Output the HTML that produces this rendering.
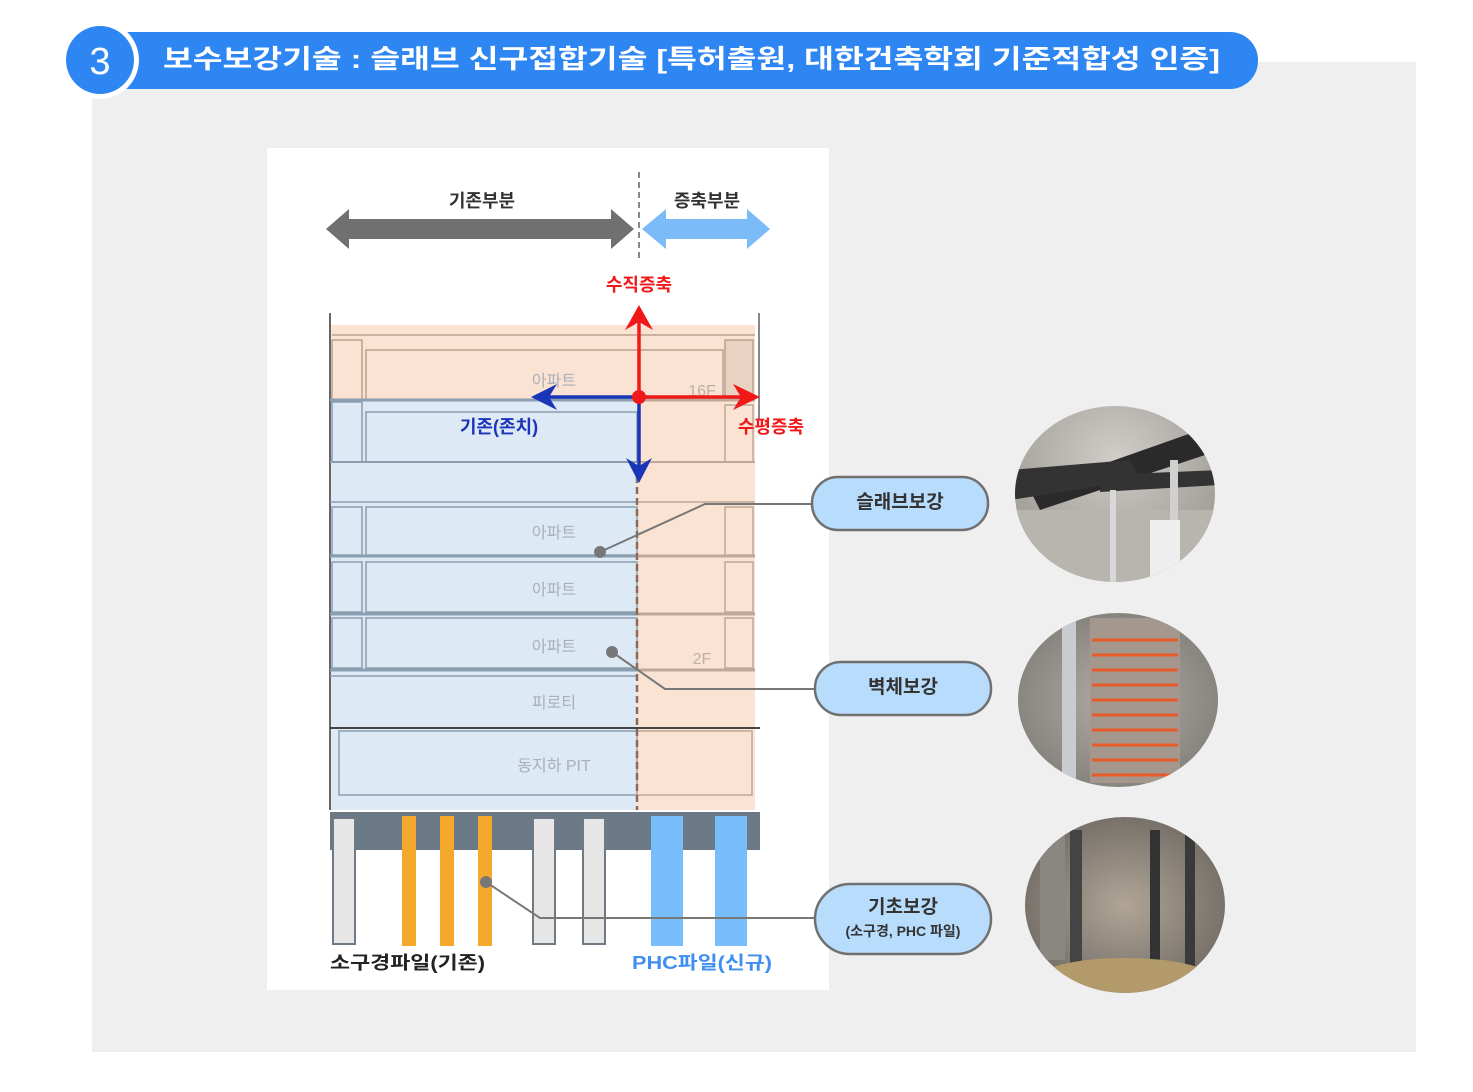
<!DOCTYPE html>
<html><head><meta charset="utf-8"><style>
html,body{margin:0;padding:0;background:#fff;}
svg{display:block;font-family:"Liberation Sans","Noto Sans CJK KR",sans-serif;}
</style></head><body>
<svg width="1473" height="1092" viewBox="0 0 1473 1092" xmlns="http://www.w3.org/2000/svg">
<defs>
<radialGradient id="p1" cx="50%" cy="30%" r="65%"><stop offset="0" stop-color="#d0cdc8"/><stop offset="1" stop-color="#9a9690"/></radialGradient>
<radialGradient id="p2" cx="50%" cy="50%" r="60%"><stop offset="0" stop-color="#b2aca4"/><stop offset="1" stop-color="#7d7a76"/></radialGradient>
<radialGradient id="p3" cx="50%" cy="50%" r="60%"><stop offset="0" stop-color="#b0a596"/><stop offset="1" stop-color="#6a6560"/></radialGradient>
<clipPath id="c1"><ellipse cx="1115" cy="494" rx="100" ry="88"/></clipPath>
<clipPath id="c2"><ellipse cx="1118" cy="700" rx="100" ry="87"/></clipPath>
<clipPath id="c3"><ellipse cx="1125" cy="905" rx="100" ry="88"/></clipPath>
</defs>
<rect x="92" y="62" width="1324" height="990" fill="#efefef"/>
<!-- banner -->
<rect x="90" y="32" width="1168" height="57" rx="28" fill="#2e86f2"/>
<circle cx="100" cy="60" r="39" fill="#fff"/>
<circle cx="100" cy="60" r="34" fill="#2e86f2"/>
<text x="100" y="74" font-size="38" fill="#fff" text-anchor="middle">3</text>
<text x="163" y="68" font-size="26" font-weight="bold" fill="#fff" textLength="1057" lengthAdjust="spacingAndGlyphs">보수보강기술 : 슬래브 신구접합기술 [특허출원, 대한건축학회 기준적합성 인증]</text>
<!-- white card -->
<rect x="267" y="148" width="562" height="842" fill="#fff"/>
<!-- top arrows -->
<text x="482" y="207" font-size="18" font-weight="bold" fill="#333" text-anchor="middle">기존부분</text>
<text x="707" y="207" font-size="18" font-weight="bold" fill="#333" text-anchor="middle">증축부분</text>
<polygon points="326,229 349,209 349,219 611,219 611,209 634,229 611,249 611,239 349,239 349,249" fill="#707070"/>
<polygon points="642,229 666,209 666,219 747,219 747,209 770,229 747,249 747,239 666,239 666,249" fill="#7bbcf8"/>
<line x1="639" y1="172" x2="639" y2="258" stroke="#888" stroke-width="2" stroke-dasharray="6,4"/>
<text x="639" y="291" font-size="18" font-weight="bold" fill="#f01818" text-anchor="middle">수직증축</text>
<!-- building -->
<rect x="330" y="325" width="425" height="75" fill="#fbe3d4"/>
<rect x="637" y="400" width="118" height="410" fill="#fbe3d4"/>
<rect x="330" y="400" width="307" height="410" fill="#dde9f5"/>
<line x1="330" y1="313" x2="330" y2="810" stroke="#666" stroke-width="2"/>
<line x1="759" y1="313" x2="759" y2="420" stroke="#888" stroke-width="2"/>
<g fill="none" stroke="#b9a190" stroke-width="1.5">
<line x1="332" y1="335" x2="755" y2="335"/>
<rect x="332" y="340" width="30" height="60"/><rect x="366" y="350" width="357" height="50"/>
<rect x="725" y="340" width="28" height="60" fill="#d9c2b0" fill-opacity=".5"/>
</g>
<g fill="none" stroke="#8b9eb0" stroke-width="1.5">
<rect x="332" y="402" width="30" height="60"/><rect x="366" y="412" width="271" height="50"/>
<line x1="330" y1="400" x2="637" y2="400" stroke-width="3"/>
<line x1="330" y1="462" x2="637" y2="462" stroke-width="2"/>
<line x1="330" y1="502" x2="637" y2="502"/>
<rect x="332" y="507" width="30" height="48"/><rect x="366" y="507" width="271" height="48"/>
<line x1="330" y1="556" x2="637" y2="556" stroke-width="3"/>
<rect x="332" y="562" width="30" height="50"/><rect x="366" y="562" width="271" height="50"/>
<line x1="330" y1="614" x2="637" y2="614" stroke-width="3"/>
<rect x="332" y="618" width="30" height="50"/><rect x="366" y="618" width="271" height="50"/>
<line x1="330" y1="670" x2="637" y2="670" stroke-width="3"/>
<line x1="330" y1="676" x2="637" y2="676"/>
<rect x="339" y="731" width="298" height="64"/>
</g>
<g fill="none" stroke="#c0a898" stroke-width="1.5">
<line x1="637" y1="400" x2="755" y2="400" stroke-width="3"/>
<rect x="725" y="405" width="28" height="57"/><line x1="637" y1="462" x2="755" y2="462" stroke-width="2"/>
<line x1="637" y1="502" x2="755" y2="502"/><rect x="725" y="507" width="28" height="48"/>
<line x1="637" y1="556" x2="755" y2="556" stroke-width="3"/><rect x="725" y="562" width="28" height="50"/>
<line x1="637" y1="614" x2="755" y2="614" stroke-width="3"/><rect x="725" y="618" width="28" height="50"/>
<line x1="637" y1="670" x2="755" y2="670" stroke-width="3"/>
<rect x="637" y="731" width="115" height="64"/>
</g>
<line x1="330" y1="728" x2="760" y2="728" stroke="#444" stroke-width="2"/>
<line x1="637" y1="465" x2="637" y2="810" stroke="#8a6a5a" stroke-width="2.5" stroke-dasharray="7,4"/>
<g font-size="16" fill="#a8b0b8" text-anchor="middle">
<text x="554" y="386">아파트</text>
<text x="554" y="538">아파트</text>
<text x="554" y="595">아파트</text>
<text x="554" y="652">아파트</text>
<text x="554" y="708">피로티</text>
<text x="554" y="771">동지하 PIT</text>
<text x="702" y="396" fill="#c0b0a4">16F</text>
<text x="702" y="664" fill="#c0b0a4">2F</text>
</g>
<!-- arrows -->
<line x1="639" y1="397" x2="639" y2="322" stroke="#f01818" stroke-width="3.5"/>
<polygon points="625,330 639,305 653,330 639,322" fill="#f01818"/>
<line x1="639" y1="397" x2="745" y2="397" stroke="#f01818" stroke-width="3.5"/>
<polygon points="733,384 760,397 733,410 741,397" fill="#f01818"/>
<line x1="639" y1="397" x2="545" y2="397" stroke="#1a35b8" stroke-width="3.5"/>
<polygon points="557,384 531,397 557,410 549,397" fill="#1a35b8"/>
<line x1="639" y1="397" x2="639" y2="470" stroke="#1a35b8" stroke-width="3.5"/>
<polygon points="626,458 639,483 652,458 639,466" fill="#1a35b8"/>
<circle cx="639" cy="397" r="7" fill="#f01818"/>
<text x="499" y="433" font-size="18" font-weight="bold" fill="#1a35b8" text-anchor="middle">기존(존치)</text>
<text x="771" y="433" font-size="18" font-weight="bold" fill="#f01818" text-anchor="middle">수평증축</text>
<!-- foundation -->
<rect x="330" y="812" width="430" height="38" fill="#6b7886"/>
<g fill="#e6e6e6" stroke="#6f7a85" stroke-width="2">
<rect x="333" y="818" width="22" height="126"/>
<rect x="533" y="818" width="22" height="126"/>
<rect x="583" y="818" width="22" height="126"/>
</g>
<g fill="#f5a92c"><rect x="402" y="816" width="14" height="130"/><rect x="440" y="816" width="14" height="130"/><rect x="478" y="816" width="14" height="130"/></g>
<g fill="#78bdfc"><rect x="651" y="816" width="32" height="130"/><rect x="715" y="816" width="32" height="130"/></g>
<text x="330" y="969" font-size="18" font-weight="bold" fill="#222" textLength="155" lengthAdjust="spacingAndGlyphs">소구경파일(기존)</text>
<text x="632" y="969" font-size="18" font-weight="bold" fill="#3f8ff0" textLength="140" lengthAdjust="spacingAndGlyphs">PHC파일(신규)</text>
<!-- leaders -->
<g fill="none" stroke="#777" stroke-width="2">
<polyline points="600,552 705,504 812,504"/>
<polyline points="612,652 665,689 815,689"/>
<polyline points="486,882 540,918 815,918"/>
</g>
<g fill="#777"><circle cx="600" cy="552" r="6"/><circle cx="612" cy="652" r="6"/><circle cx="486" cy="882" r="6"/></g>
<!-- pills -->
<g fill="#b8dcfc" stroke="#707070" stroke-width="2.5">
<rect x="812" y="477" width="176" height="53" rx="26"/>
<rect x="815" y="662" width="176" height="53" rx="26"/>
<rect x="815" y="884" width="176" height="70" rx="35"/>
</g>
<g font-weight="bold" fill="#333" text-anchor="middle">
<text x="900" y="508" font-size="19">슬래브보강</text>
<text x="903" y="693" font-size="19">벽체보강</text>
<text x="903" y="913" font-size="19">기초보강</text>
<text x="903" y="936" font-size="14">(소구경, PHC 파일)</text>
</g>
<!-- photos -->
<g clip-path="url(#c1)">
<rect x="1010" y="400" width="210" height="190" fill="url(#p1)"/>
<rect x="1010" y="510" width="210" height="80" fill="#b8b4ae"/>
<polygon points="1030,490 1200,430 1205,455 1040,510" fill="#2a2a2a"/>
<polygon points="1010,470 1130,460 1140,480 1010,500" fill="#333"/>
<polygon points="1100,475 1220,470 1220,485 1100,492" fill="#333"/>
<rect x="1170" y="460" width="8" height="130" fill="#d0d0d0"/>
<rect x="1110" y="490" width="6" height="100" fill="#d8d8d8"/>
<rect x="1150" y="520" width="30" height="60" fill="#eee"/>
</g>
<g clip-path="url(#c2)">
<rect x="1010" y="610" width="215" height="180" fill="url(#p2)"/>
<rect x="1090" y="618" width="90" height="165" fill="#a4988e"/>
<g stroke="#e85a2a" stroke-width="3">
<line x1="1092" y1="640" x2="1178" y2="640"/><line x1="1092" y1="655" x2="1178" y2="655"/><line x1="1092" y1="670" x2="1178" y2="670"/><line x1="1092" y1="685" x2="1178" y2="685"/><line x1="1092" y1="700" x2="1178" y2="700"/><line x1="1092" y1="715" x2="1178" y2="715"/><line x1="1092" y1="730" x2="1178" y2="730"/><line x1="1092" y1="745" x2="1178" y2="745"/><line x1="1092" y1="760" x2="1178" y2="760"/><line x1="1092" y1="775" x2="1178" y2="775"/>
</g>
<rect x="1062" y="610" width="14" height="180" fill="#c8ccd0"/>
</g>
<g clip-path="url(#c3)">
<rect x="1020" y="815" width="210" height="180" fill="url(#p3)"/>
<rect x="1150" y="830" width="10" height="150" fill="#333"/>
<rect x="1185" y="830" width="10" height="150" fill="#3a3a3a"/>
<rect x="1070" y="830" width="12" height="150" fill="#444"/>
<rect x="1040" y="830" width="25" height="130" fill="#8a8680"/>
<ellipse cx="1125" cy="980" rx="90" ry="22" fill="#b39a6a"/>
</g>
</svg>
</body></html>
